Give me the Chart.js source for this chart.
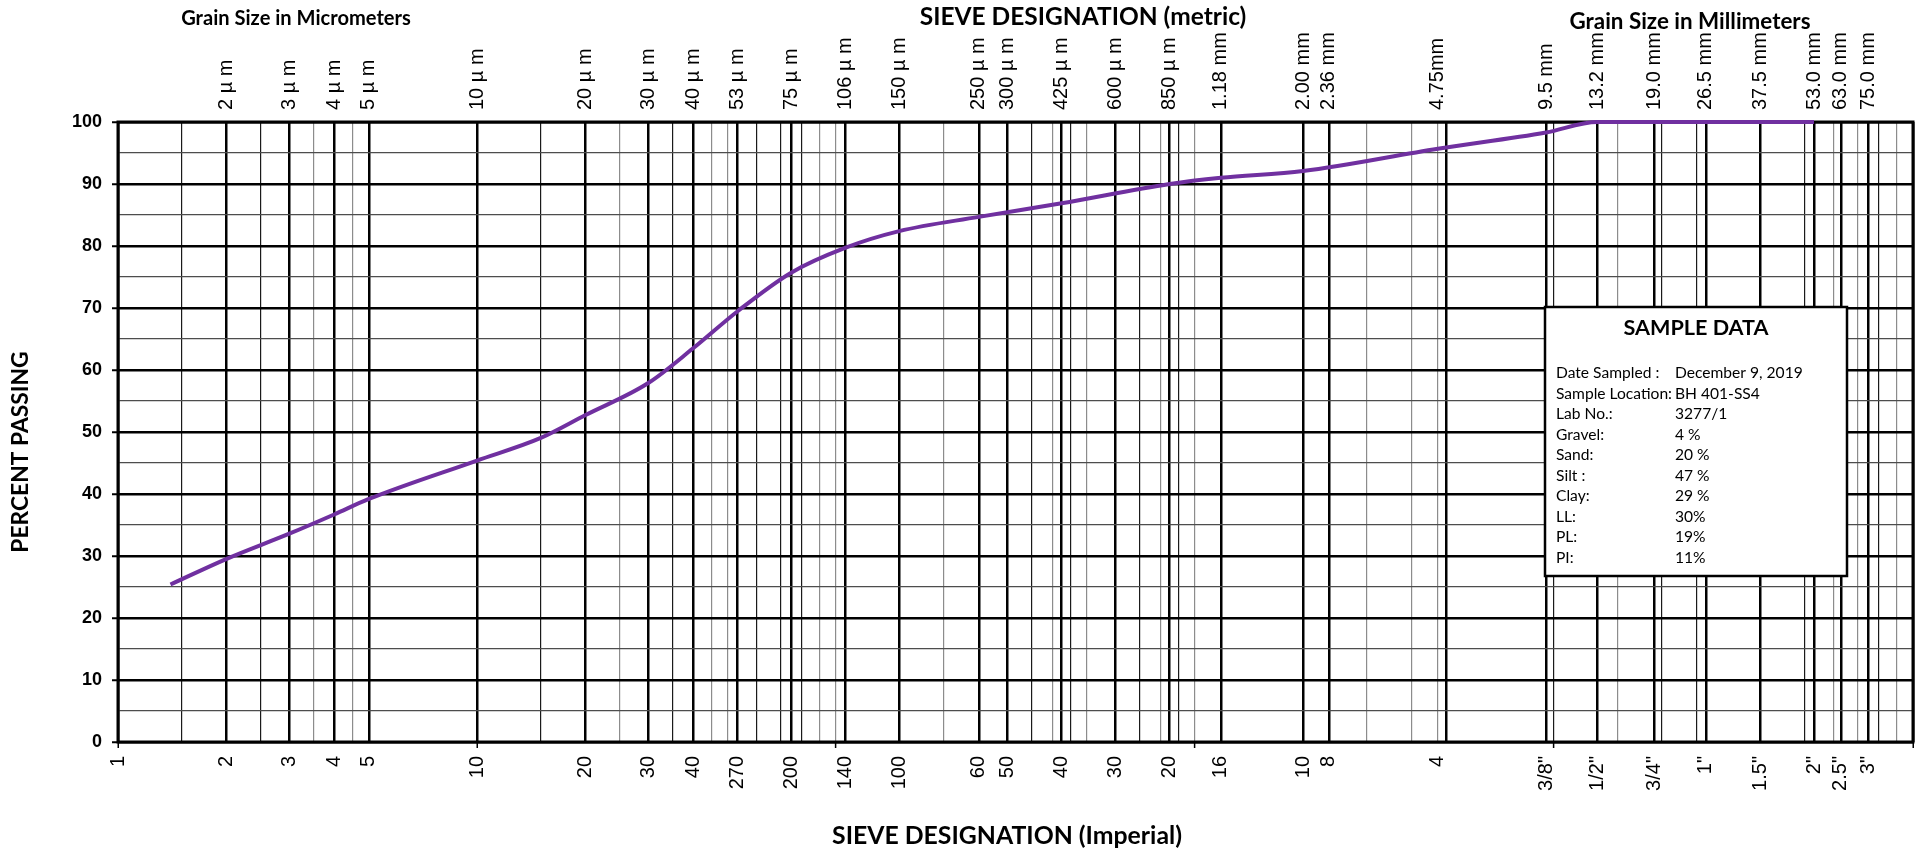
<!DOCTYPE html>
<html>
<head>
<meta charset="utf-8">
<script src="https://cdn.jsdelivr.net/npm/chart.js@4.4.1/dist/chart.umd.min.js"></script>
<style>
  html, body { margin: 0; padding: 0; background: #fff; }
  #wrap { width: 1923px; height: 850px; position: relative; }
</style>
</head>
<body>
<div id="wrap"><canvas id="gradChart"></canvas></div>
<script>
// --- grid lines (grain size in mm) ---
const gridMajor = [0.001, 0.002, 0.003, 0.004, 0.005, 0.01, 0.02, 0.03, 0.04, 0.053, 0.075, 0.106, 0.15,
  0.25, 0.3, 0.425, 0.6, 0.85, 1.18, 2.0, 2.36, 5, 9.5, 13.2, 19, 26.5, 37.5, 53, 63, 75, 100];
const gridMinorDark = [0.0015, 0.0025, 0.015, 0.035, 0.06, 0.07, 0.08, 0.35, 0.45, 0.7, 0.9,
  10, 20, 25, 50, 80];
const gridMinorLight = [0.0035, 0.0045, 0.025, 0.045, 0.05, 0.09, 0.1, 0.2, 0.4, 0.5, 0.8, 1.0,
  3, 4, 4.75, 15, 60, 70, 90];
const decades = [0.001, 0.01, 0.1, 1, 10, 100];

// --- top labels (metric sieve / grain size) ---
const metricSizes = [0.002, 0.003, 0.004, 0.005, 0.01, 0.02, 0.03, 0.04, 0.053, 0.075, 0.106, 0.15,
  0.25, 0.3, 0.425, 0.6, 0.85, 1.18, 2.0, 2.36, 4.75, 9.5, 13.2, 19, 26.5, 37.5, 53, 63, 75];
const metricLabels = ['2 µ m', '3 µ m', '4 µ m', '5 µ m', '10 µ m', '20 µ m', '30 µ m', '40 µ m',
  '53 µ m', '75 µ m', '106 µ m', '150 µ m', '250 µ m', '300 µ m', '425 µ m', '600 µ m', '850 µ m',
  '1.18 mm', '2.00 mm', '2.36 mm', '4.75mm', '9.5 mm', '13.2 mm', '19.0 mm', '26.5 mm', '37.5 mm',
  '53.0 mm', '63.0 mm', '75.0 mm'];

// --- bottom labels (imperial sieve) ---
const imperialSizes = [0.001, 0.002, 0.003, 0.004, 0.005, 0.01, 0.02, 0.03, 0.04, 0.053, 0.075, 0.106,
  0.15, 0.25, 0.3, 0.425, 0.6, 0.85, 1.18, 2.0, 2.36, 4.75, 9.5, 13.2, 19, 26.5, 37.5, 53, 63, 75];
const imperialLabels = ['1', '2', '3', '4', '5', '10', '20', '30', '40', '270', '200', '140', '100',
  '60', '50', '40', '30', '20', '16', '10', '8', '4', '3/8"', '1/2"', '3/4"', '1"', '1.5"', '2"',
  '2.5"', '3"'];

// --- gradation curve ---
const curveSize = [0.0014, 0.002, 0.003, 0.004, 0.005, 0.01, 0.015, 0.02, 0.03, 0.04, 0.053, 0.075,
  0.106, 0.15, 0.25, 0.425, 0.85, 1.18, 2.0, 4.75, 9.5, 13.2, 53];
const curvePassing = [25.4, 29.5, 33.6, 36.7, 39.2, 45.4, 49.0, 52.7, 57.9, 63.5, 69.4, 75.7,
  79.7, 82.4, 84.7, 86.9, 90.0, 91.0, 92.1, 95.7, 98.3, 100, 100];

// --- sample data box ---
const sampleFields = ['Date Sampled :', 'Sample Location:', 'Lab No.:', 'Gravel:', 'Sand:', 'Silt :',
  'Clay:', 'LL:', 'PL:', 'PI:'];
const sampleValues = ['December 9, 2019', 'BH 401-SS4', '3277/1', '4 %', '20 %', '47 %', '29 %',
  '30%', '19%', '11%'];

const majorSet = new Set(gridMajor);
const darkSet = new Set(gridMinorDark);
const allGrid = [...gridMajor, ...gridMinorDark, ...gridMinorLight].sort((a, b) => a - b);

const TITLE_FONT = 'Lato, "Open Sans", sans-serif';
const LABEL_SIZE = 20;

function fitFont(ctx, text, width, weight) {
    ctx.font = weight + ' 100px ' + TITLE_FONT;
    const w = ctx.measureText(text).width;
    return weight + ' ' + (100 * width / w).toFixed(1) + 'px ' + TITLE_FONT;
}

// no extra side padding from rotated labels
function noPad(s) {
    s.paddingLeft = 0;
    s.paddingRight = 0;
}

// frame around plot area (drawn under the curve)
const framePlugin = {
    id: 'frame',
    beforeDatasetsDraw(chart) {
        const { ctx, chartArea: a } = chart;
        ctx.save();
        ctx.strokeStyle = '#000';
        ctx.lineWidth = 3;
        ctx.strokeRect(a.left, a.top, a.right - a.left, a.bottom - a.top);
        ctx.restore();
    }
};

// titles + sample data box
const textPlugin = {
    id: 'texts',
    afterDraw(chart) {
        const ctx = chart.ctx;
        ctx.save();
        ctx.fillStyle = '#000';
        ctx.textAlign = 'center';
        ctx.textBaseline = 'middle';

        const titles = [
            ['Grain Size in Micrometers', 296, 19, 230],
            ['SIEVE DESIGNATION (metric)', 1083, 17, 327],
            ['Grain Size in Millimeters', 1690, 22, 241],
            ['SIEVE DESIGNATION (Imperial)', 1007, 836, 350]
        ];
        titles.forEach(t => {
            ctx.font = fitFont(ctx, t[0], t[3], 'bold');
            ctx.fillText(t[0], t[1], t[2]);
        });

        // y title
        ctx.save();
        ctx.translate(21, 452);
        ctx.rotate(-Math.PI / 2);
        ctx.font = fitFont(ctx, 'PERCENT PASSING', 201, 'bold');
        ctx.fillText('PERCENT PASSING', 0, 0);
        ctx.restore();

        // sample data box
        const bx = 1545, by = 307, bw = 302, bh = 269;
        ctx.fillStyle = '#fff';
        ctx.fillRect(bx, by, bw, bh);
        ctx.strokeStyle = '#000';
        ctx.lineWidth = 2.5;
        ctx.strokeRect(bx, by, bw, bh);
        ctx.fillStyle = '#000';
        ctx.font = fitFont(ctx, 'SAMPLE DATA', 145, 'bold');
        ctx.fillText('SAMPLE DATA', 1696, 328);

        ctx.textAlign = 'left';
        ctx.font = fitFont(ctx, 'Sample Location:', 116, 'normal');
        sampleFields.forEach((f, i) => {
            const y = 373 + i * 20.5;
            ctx.fillText(f, 1556, y);
            ctx.fillText(sampleValues[i], 1675, y);
        });
        ctx.restore();
    }
};

const ctx = document.getElementById('gradChart').getContext('2d');
const gradChart = new Chart(ctx, {
    type: 'scatter',
    data: {
        datasets: [{
            data: curveSize.map((s, i) => ({ x: s, y: curvePassing[i] })),
            showLine: true,
            borderColor: '#7030A0',
            borderWidth: 4,
            pointRadius: 0,
            cubicInterpolationMode: 'monotone',
            clip: false
        }]
    },
    options: {
        responsive: true,
        maintainAspectRatio: false,
        animation: false,
        events: [],
        layout: { padding: { left: 0, right: 10, top: 0, bottom: 0 } },
        plugins: { legend: { display: false }, tooltip: { enabled: false }, title: { display: false } },
        scales: {
            x: {
                type: 'logarithmic',
                position: 'bottom',
                min: 0.001,
                max: 100,
                afterBuildTicks: s => { s.ticks = allGrid.map(v => ({ value: v })); },
                afterFit: s => { s.height = 108; noPad(s); },
                border: { display: false },
                grid: {
                    color: c => majorSet.has(c.tick.value) ? '#000' : (darkSet.has(c.tick.value) ? '#1a1a1a' : '#8c8c8c'),
                    lineWidth: c => majorSet.has(c.tick.value) ? 2.5 : 1.2,
                    tickColor: c => decades.includes(c.tick.value) ? '#000' : 'rgba(0,0,0,0)',
                    tickWidth: 1.5,
                    tickLength: 6
                },
                ticks: {
                    autoSkip: false,
                    minRotation: 90,
                    maxRotation: 90,
                    padding: 8,
                    color: '#000',
                    font: { family: '"Liberation Sans", Arial, sans-serif', size: LABEL_SIZE },
                    callback: v => {
                        const i = imperialSizes.indexOf(v);
                        return i >= 0 ? imperialLabels[i] : '';
                    }
                }
            },
            x2: {
                type: 'logarithmic',
                position: 'top',
                min: 0.001,
                max: 100,
                afterBuildTicks: s => { s.ticks = metricSizes.map(v => ({ value: v })); },
                afterFit: s => { s.height = 122; noPad(s); },
                border: { display: false },
                grid: { display: false },
                ticks: {
                    autoSkip: false,
                    minRotation: 90,
                    maxRotation: 90,
                    padding: 4,
                    // top rotated labels are shifted by one line height, undo it
                    labelOffset: LABEL_SIZE * 1.2,
                    color: '#000',
                    font: { family: '"Liberation Sans", Arial, sans-serif', size: LABEL_SIZE },
                    callback: v => {
                        const i = metricSizes.indexOf(v);
                        return i >= 0 ? metricLabels[i] : '';
                    }
                }
            },
            y: {
                type: 'linear',
                min: 0,
                max: 100,
                afterFit: s => { s.width = 118; s.paddingTop = 0; s.paddingBottom = 0; },
                border: { display: false },
                grid: {
                    color: c => c.tick.value % 10 === 0 ? '#000' : '#4d4d4d',
                    lineWidth: c => c.tick.value % 10 === 0 ? 2.5 : 1.2,
                    tickColor: c => c.tick.value % 10 === 0 ? '#000' : 'rgba(0,0,0,0)',
                    tickWidth: 2,
                    tickLength: 6
                },
                ticks: {
                    stepSize: 5,
                    padding: 10,
                    color: '#000',
                    font: { family: '"Liberation Sans", Arial, sans-serif', size: 18, weight: 'bold' },
                    callback: v => v % 10 === 0 ? v : ''
                }
            }
        }
    },
    plugins: [framePlugin, textPlugin]
});
</script>
</body>
</html>
